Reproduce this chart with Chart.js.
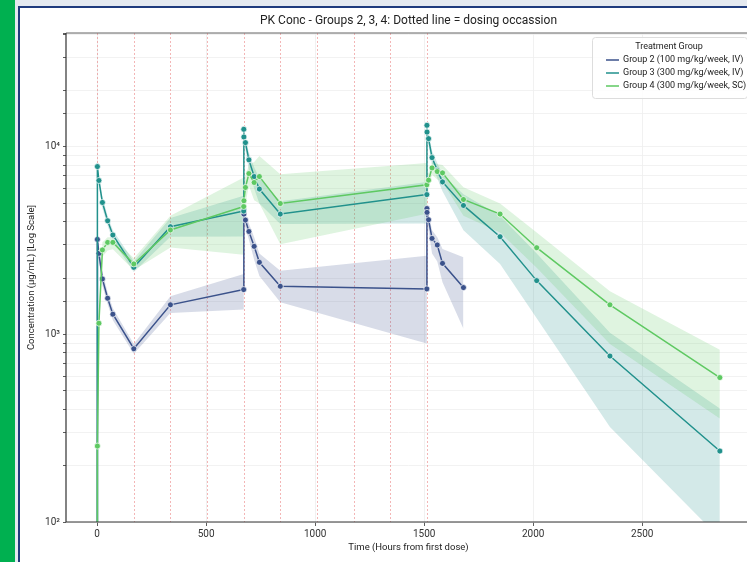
<!DOCTYPE html>
<html>
<head>
<meta charset="utf-8">
<script src="https://cdn.jsdelivr.net/npm/chart.js@4.4.1/dist/chart.umd.min.js"></script>
<style>
  html, body { margin: 0; padding: 0; }
  body { width: 747px; height: 562px; overflow: hidden; position: relative; background: #e4e9f0; }
  #sidebar { position: absolute; left: 0; top: 0; width: 15px; height: 562px; background: #00b050; }
  #frame { position: absolute; left: 18px; top: 6px; width: 760px; height: 600px; background: #fff;
           border-left: 2px solid #1f3b7d; border-top: 2px solid #1f3b7d; }
  #wrap { position: absolute; left: 0; top: 0; width: 760px; height: 562px; }
</style>
</head>
<body>
<div id="sidebar"></div>
<div id="frame"></div>
<div id="wrap"><canvas id="pkChart"></canvas></div>
<script>
// sampling times (hours from first dose)
const times = [0, 1, 8, 24, 48, 72, 168, 336, 672, 672.5, 673, 680, 696, 720, 744, 840,
               1512, 1512.5, 1513, 1520, 1536, 1560, 1584, 1680, 1848, 2016, 2352, 2856];

// Group 2 (100 mg/kg/week, IV)
const g2Mean = [1, 3213, 2706, 1978, 1560, 1282, 839, 1439, 1735, 4600, 4385, 4074, 3541, 2950, 2425, 1807,
                1750, 4695, 4477, 4090, 3251, 3000, 2394, 1778, null, null, null, null];
const g2Low  = [1, 2900, 2480, 1820, 1450, 1190, 790, 1300, 1358, 4300, 4100, 3700, 3200, 2500, 2050, 1485,
                895, 4400, 4150, 3600, 2700, 2450, 1897, 1072, null, null, null, null];
const g2High = [1, 3500, 2950, 2150, 1680, 1380, 890, 1600, 2103, 4900, 4700, 4400, 3900, 3300, 2700, 2188,
                2630, 5000, 4800, 4400, 3600, 3300, 2856, 2578, null, null, null, null];

// Group 3 (300 mg/kg/week, IV)
const g3Mean = [1, 7855, 6622, 5057, 4038, 3390, 2280, 3753, 4549, 12420, 11300, 10540, 8530, 6950, 5960, 4385,
                5570, 13040, 12000, 11070, 8770, 7500, 6510, 4875, 3320, 1937, 767, 239];
const g3Low  = [1, 7400, 6200, 4700, 3800, 3150, 2150, 3320, 3330, 11000, 10300, 9700, 7500, 6000, 5000, 3880,
                3900, 12000, 11000, 10200, 8000, 6800, 5800, 3600, 2377, 1220, 321, 82];
const g3High = [1, 8300, 7000, 5400, 4300, 3600, 2450, 4180, 5490, 13500, 12300, 11300, 9300, 7800, 6800, 5140,
                6500, 14200, 13000, 12000, 9500, 8200, 7100, 5600, 4295, 2700, 1020, 403];

// Group 4 (300 mg/kg/week, SC)
const g4Mean = [1, 254, 1148, 2823, 3096, 3096, 2377, 3606, 4810, null, 5163, 6080, 7210, 6460, 6950, 4990,
                6280, null, null, 6650, 7730, 7390, 7270, 5245, 4385, 2901, 1439, 589];
const g4Low  = [1, 200, 1000, 2600, 2800, 2850, 2200, 2910, 2660, null, 4000, 5000, 6200, 5200, 5000, 3030,
                4400, null, null, 6100, 7100, 6700, 6500, 4300, 3500, 2270, 890, 356];
const g4High = [1, 300, 1300, 3100, 3300, 3300, 2550, 4290, 6860, null, 6500, 7000, 8000, 8300, 8950, 7160,
                8200, null, null, 7200, 8300, 8100, 8000, 6100, 5000, 3500, 1700, 830];

const doseTimes = [0, 168, 336, 504, 672, 840, 1008, 1176, 1344, 1512];
const xTicks = [0, 500, 1000, 1500, 2000, 2500];
const groupLabels = ['Group 2 (100 mg/kg/week, IV)', 'Group 3 (300 mg/kg/week, IV)', 'Group 4 (300 mg/kg/week, SC)'];
const yLabels = { 100: '10²', 1000: '10³', 10000: '10⁴' };

const groupColors = ['#3b528b', '#21918c', '#5ec962'];
const bandColors = ['rgba(59, 82, 139, 0.2)', 'rgba(33, 145, 140, 0.2)', 'rgba(94, 201, 98, 0.2)'];
const FONT = 'Roboto, "Liberation Sans", sans-serif';

function toPoints(values) {
    return times.map((t, i) => ({ x: t, y: values[i] }));
}

function bandSets(high, low, i) {
    return [
        { data: toPoints(high), fill: '+1', backgroundColor: bandColors[i], borderWidth: 0,
          pointRadius: 0, spanGaps: true, order: 6 - i },
        { data: toPoints(low), fill: false, borderWidth: 0, pointRadius: 0, spanGaps: true, order: 6 - i }
    ];
}

function lineSet(mean, i) {
    return {
        data: toPoints(mean), fill: false, borderColor: groupColors[i], borderWidth: 1.5,
        pointRadius: 3, pointBackgroundColor: groupColors[i], pointBorderColor: '#ffffff',
        pointBorderWidth: 0.7, spanGaps: true, order: 3 - i
    };
}

const decorPlugin = {
    id: 'decor',
    beforeDatasetsDraw(chart) {
        const { ctx, chartArea: a, scales: { x } } = chart;
        ctx.save();
        ctx.strokeStyle = 'rgba(232, 110, 110, 0.5)';
        ctx.lineWidth = 1;
        ctx.setLineDash([2, 2]);
        doseTimes.forEach(t => {
            const px = Math.round(x.getPixelForValue(t)) + 0.5;
            ctx.beginPath();
            ctx.moveTo(px, a.top);
            ctx.lineTo(px, a.bottom);
            ctx.stroke();
        });
        ctx.restore();
    },
    afterDraw(chart) {
        const { ctx, chartArea: a } = chart;
        ctx.save();
        // spines
        ctx.lineWidth = 1.2;
        ctx.strokeStyle = '#666';
        ctx.beginPath(); ctx.moveTo(a.left, a.top); ctx.lineTo(a.right, a.top); ctx.stroke();
        ctx.strokeStyle = '#333';
        ctx.beginPath(); ctx.moveTo(a.left, a.top); ctx.lineTo(a.left, a.bottom); ctx.lineTo(a.right, a.bottom); ctx.stroke();

        // titles
        ctx.fillStyle = '#222';
        ctx.textAlign = 'center';
        ctx.textBaseline = 'middle';
        ctx.font = '12px ' + FONT;
        ctx.fillText('PK Conc - Groups 2, 3, 4: Dotted line = dosing occassion', (a.left + a.right) / 2, 21);
        ctx.font = '9.5px ' + FONT;
        ctx.fillText('Time (Hours from first dose)', (a.left + a.right) / 2, 548);
        ctx.save();
        ctx.translate(32, (a.top + a.bottom) / 2);
        ctx.rotate(-Math.PI / 2);
        ctx.fillText('Concentration (µg/mL) [Log Scale]', 0, 0);
        ctx.restore();

        // legend
        const lx = 592, ly = 37, lw = 155, lh = 61;
        ctx.fillStyle = 'rgba(255,255,255,0.85)';
        ctx.strokeStyle = '#dddddd';
        ctx.lineWidth = 1;
        ctx.beginPath();
        ctx.roundRect(lx + 0.5, ly + 0.5, lw, lh, 3);
        ctx.fill();
        ctx.stroke();
        ctx.fillStyle = '#222';
        ctx.font = '9px ' + FONT;
        ctx.textAlign = 'center';
        ctx.fillText('Treatment Group', 669, 47);
        ctx.textAlign = 'left';
        groupLabels.forEach((lab, i) => {
            const yy = 60 + i * 13;
            ctx.strokeStyle = groupColors[i];
            ctx.lineWidth = 1.5;
            ctx.beginPath(); ctx.moveTo(606, yy); ctx.lineTo(619, yy); ctx.stroke();
            ctx.fillStyle = '#222';
            ctx.fillText(lab, 623, yy);
        });
        ctx.restore();
    }
};

const datasets = [
    ...bandSets(g2High, g2Low, 0),
    ...bandSets(g3High, g3Low, 1),
    ...bandSets(g4High, g4Low, 2),
    lineSet(g2Mean, 0),
    lineSet(g3Mean, 1),
    lineSet(g4Mean, 2)
];

new Chart(document.getElementById('pkChart').getContext('2d'), {
    type: 'line',
    data: { datasets },
    options: {
        responsive: true,
        maintainAspectRatio: false,
        animation: false,
        events: [],
        layout: { padding: { top: 33, right: 9, left: 0, bottom: 0 } },
        plugins: { legend: { display: false }, title: { display: false }, tooltip: { enabled: false } },
        scales: {
            x: {
                type: 'linear', min: -143, max: 2999,
                afterBuildTicks: s => { s.ticks = xTicks.map(v => ({ value: v })); },
                afterFit: s => { s.height = 40; },
                border: { display: false },
                grid: { color: '#eeeeee', lineWidth: 0.8, tickLength: 4, tickColor: '#333' },
                ticks: { padding: 2, color: '#333', font: { family: FONT, size: 10 },
                         callback: v => String(v) }
            },
            y: {
                type: 'logarithmic', min: 100, max: 40500,
                afterFit: s => { s.width = 66; },
                border: { display: false },
                grid: { color: '#efefef', lineWidth: 0.8, tickLength: 3, tickColor: '#333' },
                ticks: { autoSkip: false, padding: 3, color: '#333', font: { family: FONT, size: 10 },
                         callback: v => yLabels[v] || '' }
            }
        }
    },
    plugins: [decorPlugin]
});
</script>
</body>
</html>
